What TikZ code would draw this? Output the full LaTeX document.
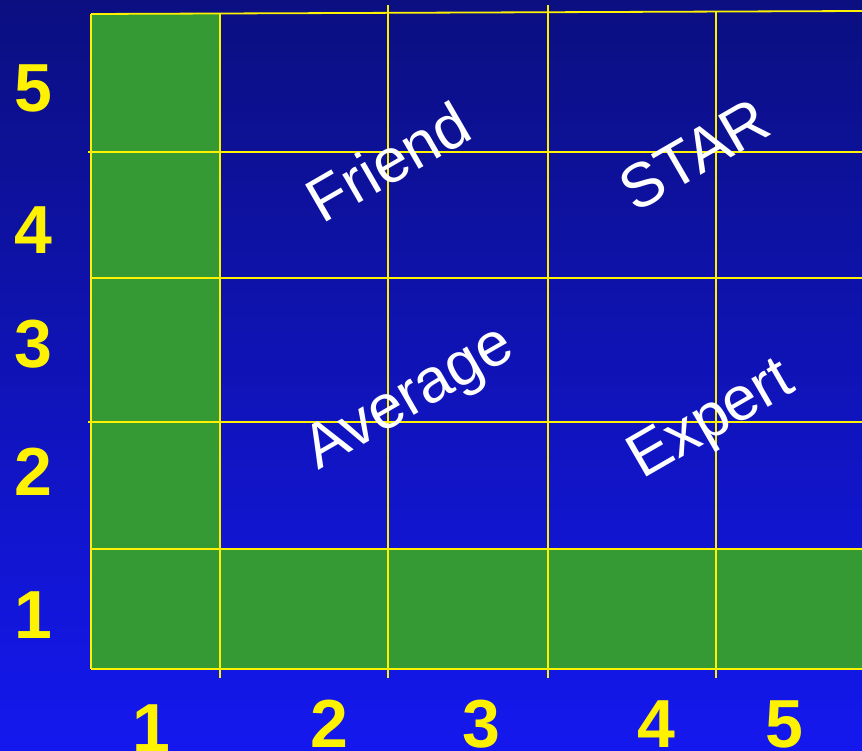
\documentclass[tikz,border=0pt]{standalone}
\usepackage{fontspec}
\setmainfont{Liberation Sans}
\usepackage{tikz}

\definecolor{bgtop}{RGB}{11,15,128}
\definecolor{bgbot}{RGB}{20,24,238}
\definecolor{cellgreen}{RGB}{53,154,51}

\begin{document}
\begin{tikzpicture}[
    x=1pt, y=-1pt,
    grid/.style={draw=yellow, line width=1.8pt},
    cell/.style={fill=cellgreen},
    zone/.style={
        text=white,
        font=\fontsize{62}{62}\selectfont,
        rotate=30,
        anchor=base,
        inner sep=0pt
    },
    axisnum/.style={
        text=yellow,
        font=\fontsize{68}{68}\selectfont\bfseries,
        anchor=base,
        inner sep=0pt
    }
]

\def\xa{91}
\def\xb{220}
\def\xc{388}
\def\xd{548}
\def\xe{716}
\def\xr{862}

\def\ya{14}
\def\yb{152}
\def\yc{278}
\def\yd{422}
\def\ye{549}
\def\yf{669}
\def\yt{678}

% Background
\clip (0,0) rectangle (862,751);
\shade[top color=bgtop, bottom color=bgbot] (0,0) rectangle (862,751);

% Green cells
\fill[cell] (\xa,\ya) rectangle (\xb,\yf);
\fill[cell] (\xa,\ye) rectangle (\xr,\yf);

% Grid lines
\draw[grid] (\xa,\ya) -- (\xr,11);
\draw[grid] (88,\yb) -- (\xr,\yb);
\draw[grid] (\xa,\yc) -- (\xr,\yc);
\draw[grid] (88,\yd) -- (\xr,\yd);
\draw[grid] (\xa,\ye) -- (\xr,\ye);
\draw[grid] (\xa,\yf) -- (\xr,\yf);

\draw[grid] (\xa,\ya) -- (\xa,\yf);
\draw[grid] (\xb,\ya) -- (\xb,\yt);
\draw[grid] (\xc,5) -- (\xc,\yt);
\draw[grid] (\xd,5) -- (\xd,\yt);
\draw[grid] (\xe,12) -- (\xe,\yt);

% Quadrant labels
\node[zone] (friend)  at (399,181) {Friend};
\node[zone] (star)    at (705,173) {STAR};
\node[zone] (average) at (418,413) {Average};
\node[zone] (expert)  at (720,435) {Expert};

% Vertical axis
\node[axisnum] (v5) at (33,112) {5};
\node[axisnum] (v4) at (33,254) {4};
\node[axisnum] (v3) at (33,367) {3};
\node[axisnum] (v2) at (33,495) {2};
\node[axisnum] (v1) at (33,638) {1};

% Horizontal axis
\node[axisnum] (h1) at (151,751) {1};
\node[axisnum] (h2) at (329,747) {2};
\node[axisnum] (h3) at (481,747) {3};
\node[axisnum] (h4) at (656,747) {4};
\node[axisnum] (h5) at (784,747) {5};

\end{tikzpicture}
\end{document}
